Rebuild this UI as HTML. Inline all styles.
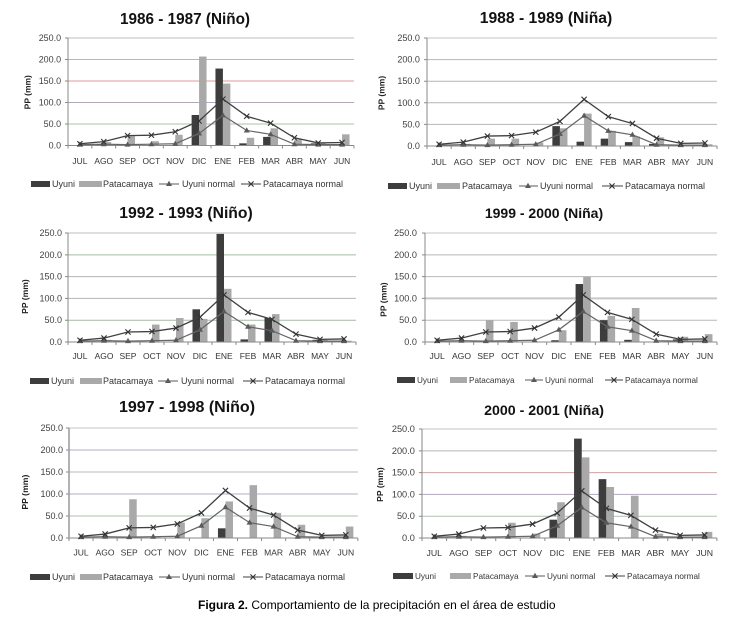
<!DOCTYPE html>
<html><head><meta charset="utf-8"><style>html,body{margin:0;padding:0;background:#fff;}svg{display:block;}</style></head>
<body>
<svg width="729" height="617" viewBox="0 0 729 617" xmlns="http://www.w3.org/2000/svg" xmlns:xlink="http://www.w3.org/1999/xlink" font-family="'Liberation Sans', sans-serif">
<defs>
 <path id="tri" d="M0,-3.2L3,2L-3,2Z" fill="#5a5a5a"/>
 <path id="xm" d="M-2.6,-2.6L2.6,2.6M-2.6,2.6L2.6,-2.6" stroke="#333" stroke-width="1.1" fill="none"/>
 <g id="frame" fill="none" stroke="#8a8a8a" stroke-width="1">
  <path d="M0,0V-108M-3,0H0M-3,-21.6H0M-3,-43.2H0M-3,-64.8H0M-3,-86.4H0M-3,-108H0"/>
  <path d="M0,0H288M0,0v3M24,0v3M48,0v3M72,0v3M96,0v3M120,0v3M144,0v3M168,0v3M192,0v3M216,0v3M240,0v3M264,0v3M288,0v3"/>
 </g>
 <g id="norm">
  <polyline points="12,-0.86 36,-1.30 60,-0.86 84,-1.30 108,-1.73 132,-12.10 156,-30.24 180,-15.12 204,-11.23 228,-1.30 252,-0.86 276,-0.86" fill="none" stroke="#666" stroke-width="1.2"/>
  <polyline points="12,-1.73 36,-3.89 60,-9.94 84,-10.37 108,-13.82 132,-24.62 156,-46.66 180,-29.38 204,-22.46 228,-7.78 252,-2.59 276,-3.02" fill="none" stroke="#404040" stroke-width="1.3"/>
  <use xlink:href="#tri" x="12" y="-0.86"/><use xlink:href="#tri" x="36" y="-1.30"/><use xlink:href="#tri" x="60" y="-0.86"/><use xlink:href="#tri" x="84" y="-1.30"/><use xlink:href="#tri" x="108" y="-1.73"/><use xlink:href="#tri" x="132" y="-12.10"/><use xlink:href="#tri" x="156" y="-30.24"/><use xlink:href="#tri" x="180" y="-15.12"/><use xlink:href="#tri" x="204" y="-11.23"/><use xlink:href="#tri" x="228" y="-1.30"/><use xlink:href="#tri" x="252" y="-0.86"/><use xlink:href="#tri" x="276" y="-0.86"/>
  <use xlink:href="#xm" x="12" y="-1.73"/><use xlink:href="#xm" x="36" y="-3.89"/><use xlink:href="#xm" x="60" y="-9.94"/><use xlink:href="#xm" x="84" y="-10.37"/><use xlink:href="#xm" x="108" y="-13.82"/><use xlink:href="#xm" x="132" y="-24.62"/><use xlink:href="#xm" x="156" y="-46.66"/><use xlink:href="#xm" x="180" y="-29.38"/><use xlink:href="#xm" x="204" y="-22.46"/><use xlink:href="#xm" x="228" y="-7.78"/><use xlink:href="#xm" x="252" y="-2.59"/><use xlink:href="#xm" x="276" y="-3.02"/>
 </g>
</defs>
<rect width="729" height="617" fill="#fff"/>

<!-- Chart 1 -->
<text x="185" y="24" text-anchor="middle" font-size="15.3" font-weight="bold" fill="#111">1986 - 1987 (Niño)</text>
<g transform="translate(68,145.5) scale(0.993,0.995)">
 <g stroke-width="1">
  <line x1="0" x2="288" y1="-108" y2="-108" stroke="#bdbdbd"/>
  <line x1="0" x2="288" y1="-86.4" y2="-86.4" stroke="#afbcaf"/>
  <line x1="0" x2="288" y1="-64.8" y2="-64.8" stroke="#e09a9a"/>
  <line x1="0" x2="288" y1="-43.2" y2="-43.2" stroke="#b8a2cc"/>
  <line x1="0" x2="288" y1="-21.6" y2="-21.6" stroke="#a9c4a9"/>
 </g>
 <g transform="scale(1,-0.432)">
  <g fill="#3d3d3d"><rect x="28.5" width="7.5" height="3"/><rect x="124.5" width="7.5" height="71"/><rect x="148.5" width="7.5" height="179"/><rect x="172.5" width="7.5" height="5"/><rect x="196.5" width="7.5" height="20"/><rect x="244.5" width="7.5" height="5"/></g>
  <g fill="#a9a9a9"><rect x="12" width="7.5" height="3"/><rect x="36" width="7.5" height="8"/><rect x="60" width="7.5" height="22"/><rect x="84" width="7.5" height="10"/><rect x="108" width="7.5" height="25"/><rect x="132" width="7.5" height="207"/><rect x="156" width="7.5" height="144"/><rect x="180" width="7.5" height="18"/><rect x="204" width="7.5" height="40"/><rect x="228" width="7.5" height="14"/><rect x="252" width="7.5" height="7"/><rect x="276" width="7.5" height="26"/></g>
 </g>
 <use xlink:href="#frame"/>
 <use xlink:href="#norm"/>
 <g font-size="9" fill="#404040" text-anchor="end">
  <text x="-7" y="-105">250.0</text><text x="-7" y="-83.4">200.0</text><text x="-7" y="-61.8">150.0</text><text x="-7" y="-40.2">100.0</text><text x="-7" y="-18.6">50.0</text><text x="-7" y="3">0.0</text>
 </g>
 <g font-size="8.5" fill="#333" text-anchor="middle">
  <text x="12" y="18.5">JUL</text><text x="36" y="18.5">AGO</text><text x="60" y="18.5">SEP</text><text x="84" y="18.5">OCT</text><text x="108" y="18.5">NOV</text><text x="132" y="18.5">DIC</text><text x="156" y="18.5">ENE</text><text x="180" y="18.5">FEB</text><text x="204" y="18.5">MAR</text><text x="228" y="18.5">ABR</text><text x="252" y="18.5">MAY</text><text x="276" y="18.5">JUN</text>
 </g>
 <text transform="translate(-38,-53.5) rotate(-90)" text-anchor="middle" font-size="8.5" font-weight="bold" fill="#222">PP (mm)</text>
</g>
<g font-size="9" fill="#333">
 <rect x="31" y="181" width="19" height="6" fill="#3d3d3d"/><text x="52" y="187.2">Uyuni</text>
 <rect x="79" y="181" width="23" height="6" fill="#a9a9a9"/><text x="103" y="187.2">Patacamaya</text>
 <line x1="159" x2="179" y1="184" y2="184" stroke="#5a5a5a"/><use xlink:href="#tri" x="169" y="184"/><text x="182" y="187.2">Uyuni normal</text>
 <line x1="241" x2="261" y1="184" y2="184" stroke="#404040"/><use xlink:href="#xm" x="251" y="184"/><text x="263" y="187.2">Patacamaya normal</text>
</g>

<!-- Chart 2 -->
<text x="546" y="23" text-anchor="middle" font-size="15.7" font-weight="bold" fill="#111">1988 - 1989 (Niña)</text>
<g transform="translate(427,146) scale(1.007,1)">
 <g stroke-width="1" stroke="#b5b5b5">
  <line x1="0" x2="288" y1="-108" y2="-108" stroke="#c4c4c4"/>
  <line x1="0" x2="288" y1="-86.4" y2="-86.4"/>
  <line x1="0" x2="288" y1="-64.8" y2="-64.8"/>
  <line x1="0" x2="288" y1="-43.2" y2="-43.2"/>
  <line x1="0" x2="288" y1="-21.6" y2="-21.6"/>
 </g>
 <g transform="scale(1,-0.432)">
  <g fill="#3d3d3d"><rect x="124.5" width="7.5" height="46"/><rect x="148.5" width="7.5" height="10"/><rect x="172.5" width="7.5" height="17"/><rect x="196.5" width="7.5" height="9"/><rect x="220.5" width="7.5" height="5"/></g>
  <g fill="#a9a9a9"><rect x="12" width="7.5" height="2"/><rect x="36" width="7.5" height="5"/><rect x="60" width="7.5" height="17"/><rect x="84" width="7.5" height="17"/><rect x="108" width="7.5" height="8"/><rect x="132" width="7.5" height="41"/><rect x="156" width="7.5" height="75"/><rect x="180" width="7.5" height="35"/><rect x="204" width="7.5" height="22"/><rect x="228" width="7.5" height="20"/><rect x="252" width="7.5" height="3"/><rect x="276" width="7.5" height="4"/></g>
 </g>
 <use xlink:href="#frame"/>
 <use xlink:href="#norm"/>
 <g font-size="9" fill="#404040" text-anchor="end">
  <text x="-7" y="-105">250.0</text><text x="-7" y="-83.4">200.0</text><text x="-7" y="-61.8">150.0</text><text x="-7" y="-40.2">100.0</text><text x="-7" y="-18.6">50.0</text><text x="-7" y="3">0.0</text>
 </g>
 <g font-size="8.5" fill="#333" text-anchor="middle">
  <text x="12" y="19">JUL</text><text x="36" y="19">AGO</text><text x="60" y="19">SEP</text><text x="84" y="19">OCT</text><text x="108" y="19">NOV</text><text x="132" y="19">DIC</text><text x="156" y="19">ENE</text><text x="180" y="19">FEB</text><text x="204" y="19">MAR</text><text x="228" y="19">ABR</text><text x="252" y="19">MAY</text><text x="276" y="19">JUN</text>
 </g>
 <text transform="translate(-42,-53) rotate(-90)" text-anchor="middle" font-size="8.5" font-weight="bold" fill="#222">PP (mm)</text>
</g>
<g font-size="9" fill="#333">
 <rect x="388" y="183" width="19" height="6" fill="#3d3d3d"/><text x="409" y="189.2">Uyuni</text>
 <rect x="437" y="183" width="23" height="6" fill="#a9a9a9"/><text x="462" y="189.2">Patacamaya</text>
 <line x1="519" x2="538" y1="186" y2="186" stroke="#5a5a5a"/><use xlink:href="#tri" x="528" y="186"/><text x="540" y="189.2">Uyuni normal</text>
 <line x1="602" x2="623" y1="186" y2="186" stroke="#404040"/><use xlink:href="#xm" x="612" y="186"/><text x="625" y="189.2">Patacamaya normal</text>
</g>

<!-- Chart 3 -->
<text x="186" y="218" text-anchor="middle" font-size="15.7" font-weight="bold" fill="#111">1992 - 1993 (Niño)</text>
<g transform="translate(68,342) scale(1,1.009)">
 <g stroke-width="1">
  <line x1="0" x2="288" y1="-108" y2="-108" stroke="#bdbdbd"/>
  <line x1="0" x2="288" y1="-86.4" y2="-86.4" stroke="#9cc29c"/>
  <line x1="0" x2="288" y1="-64.8" y2="-64.8" stroke="#b5b5b5"/>
  <line x1="0" x2="288" y1="-43.2" y2="-43.2" stroke="#b5b5b5"/>
  <line x1="0" x2="288" y1="-21.6" y2="-21.6" stroke="#9cc29c"/>
 </g>
 <g transform="scale(1,-0.432)">
  <g fill="#3d3d3d"><rect x="124.5" width="7.5" height="75"/><rect x="148.5" width="7.5" height="248"/><rect x="172.5" width="7.5" height="6"/><rect x="196.5" width="7.5" height="55"/><rect x="244.5" width="7.5" height="5"/></g>
  <g fill="#a9a9a9"><rect x="12" width="7.5" height="2"/><rect x="36" width="7.5" height="5"/><rect x="84" width="7.5" height="40"/><rect x="108" width="7.5" height="55"/><rect x="132" width="7.5" height="53"/><rect x="156" width="7.5" height="122"/><rect x="180" width="7.5" height="40"/><rect x="204" width="7.5" height="64"/><rect x="252" width="7.5" height="5"/><rect x="276" width="7.5" height="3"/></g>
 </g>
 <use xlink:href="#frame"/>
 <use xlink:href="#norm"/>
 <g font-size="9" fill="#404040" text-anchor="end">
  <text x="-6" y="-105">250.0</text><text x="-6" y="-83.4">200.0</text><text x="-6" y="-61.8">150.0</text><text x="-6" y="-40.2">100.0</text><text x="-6" y="-18.6">50.0</text><text x="-6" y="3">0.0</text>
 </g>
 <g font-size="8.5" fill="#333" text-anchor="middle">
  <text x="12" y="17">JUL</text><text x="36" y="17">AGO</text><text x="60" y="17">SEP</text><text x="84" y="17">OCT</text><text x="108" y="17">NOV</text><text x="132" y="17">DIC</text><text x="156" y="17">ENE</text><text x="180" y="17">FEB</text><text x="204" y="17">MAR</text><text x="228" y="17">ABR</text><text x="252" y="17">MAY</text><text x="276" y="17">JUN</text>
 </g>
 <text transform="translate(-40,-45) rotate(-90)" text-anchor="middle" font-size="8.5" font-weight="bold" fill="#222">PP (mm)</text>
</g>
<g font-size="9" fill="#333">
 <rect x="30" y="378" width="19" height="6" fill="#3d3d3d"/><text x="51" y="384.2">Uyuni</text>
 <rect x="80" y="378" width="22" height="6" fill="#a9a9a9"/><text x="103" y="384.2">Patacamaya</text>
 <line x1="158" x2="178" y1="381" y2="381" stroke="#5a5a5a"/><use xlink:href="#tri" x="168" y="381"/><text x="181" y="384.2">Uyuni normal</text>
 <line x1="243" x2="263" y1="381" y2="381" stroke="#404040"/><use xlink:href="#xm" x="253" y="381"/><text x="265" y="384.2">Patacamaya normal</text>
</g>

<!-- Chart 4 -->
<text x="544" y="218" text-anchor="middle" font-size="14" font-weight="bold" fill="#111">1999 - 2000 (Niña)</text>
<g transform="translate(425,342) scale(1.014,1.009)">
 <g stroke-width="1" stroke="#b8b8b8">
  <line x1="0" x2="288" y1="-108" y2="-108" stroke="#c4c4c4"/>
  <line x1="0" x2="288" y1="-86.4" y2="-86.4"/>
  <line x1="0" x2="288" y1="-64.8" y2="-64.8"/>
  <line x1="0" x2="288" y1="-43.2" y2="-43.2" stroke="#c8c8c8" stroke-width="2"/>
  <line x1="0" x2="288" y1="-21.6" y2="-21.6"/>
 </g>
 <g transform="scale(1,-0.432)">
  <g fill="#3d3d3d"><rect x="124.5" width="7.5" height="4"/><rect x="148.5" width="7.5" height="133"/><rect x="172.5" width="7.5" height="50"/><rect x="196.5" width="7.5" height="5"/><rect x="244.5" width="7.5" height="6"/></g>
  <g fill="#a9a9a9"><rect x="60" width="7.5" height="50"/><rect x="84" width="7.5" height="46"/><rect x="132" width="7.5" height="27"/><rect x="156" width="7.5" height="150"/><rect x="180" width="7.5" height="60"/><rect x="204" width="7.5" height="78"/><rect x="252" width="7.5" height="12"/><rect x="276" width="7.5" height="18"/></g>
 </g>
 <use xlink:href="#frame"/>
 <use xlink:href="#norm"/>
 <g font-size="9" fill="#404040" text-anchor="end">
  <text x="-8" y="-105">250.0</text><text x="-8" y="-83.4">200.0</text><text x="-8" y="-61.8">150.0</text><text x="-8" y="-40.2">100.0</text><text x="-8" y="-18.6">50.0</text><text x="-8" y="3">0.0</text>
 </g>
 <g font-size="8.5" fill="#333" text-anchor="middle">
  <text x="12" y="17">JUL</text><text x="36" y="17">AGO</text><text x="60" y="17">SEP</text><text x="84" y="17">OCT</text><text x="108" y="17">NOV</text><text x="132" y="17">DIC</text><text x="156" y="17">ENE</text><text x="180" y="17">FEB</text><text x="204" y="17">MAR</text><text x="228" y="17">ABR</text><text x="252" y="17">MAY</text><text x="276" y="17">JUN</text>
 </g>
 <text transform="translate(-38,-42) rotate(-90)" text-anchor="middle" font-size="8.5" font-weight="bold" fill="#222">PP (mm)</text>
</g>
<g font-size="8.2" fill="#333">
 <rect x="397" y="377" width="18" height="6" fill="#3d3d3d"/><text x="417" y="383">Uyuni</text>
 <rect x="450" y="377" width="17" height="6" fill="#a9a9a9"/><text x="469" y="383">Patacamaya</text>
 <line x1="525" x2="543" y1="380" y2="380" stroke="#5a5a5a"/><use xlink:href="#tri" x="534" y="380"/><text x="545" y="383">Uyuni normal</text>
 <line x1="605" x2="623" y1="380" y2="380" stroke="#404040"/><use xlink:href="#xm" x="614" y="380"/><text x="625" y="383">Patacamaya normal</text>
</g>

<!-- Chart 5 -->
<text x="187" y="412" text-anchor="middle" font-size="16" font-weight="bold" fill="#111">1997 - 1998 (Niño)</text>
<g transform="translate(69,538) scale(1.003,1.019)">
 <g stroke-width="1" stroke="#b8b8b8">
  <line x1="0" x2="288" y1="-108" y2="-108" stroke="#c4c4c4"/>
  <line x1="0" x2="288" y1="-86.4" y2="-86.4" stroke="#b9adc6"/>
  <line x1="0" x2="288" y1="-64.8" y2="-64.8"/>
  <line x1="0" x2="288" y1="-43.2" y2="-43.2" stroke="#b9adc6"/>
  <line x1="0" x2="288" y1="-21.6" y2="-21.6" stroke="#adc2ad"/>
 </g>
 <g transform="scale(1,-0.432)">
  <g fill="#3d3d3d"><rect x="52.5" width="7.5" height="3"/><rect x="148.5" width="7.5" height="22"/></g>
  <g fill="#a9a9a9"><rect x="36" width="7.5" height="2"/><rect x="60" width="7.5" height="88"/><rect x="84" width="7.5" height="2"/><rect x="108" width="7.5" height="35"/><rect x="132" width="7.5" height="45"/><rect x="156" width="7.5" height="83"/><rect x="180" width="7.5" height="120"/><rect x="204" width="7.5" height="57"/><rect x="228" width="7.5" height="30"/><rect x="276" width="7.5" height="26"/></g>
 </g>
 <use xlink:href="#frame"/>
 <line x1="0" x2="0" y1="0" y2="-108" stroke="#999" stroke-width="1.5"/>
 <use xlink:href="#norm"/>
 <g font-size="9" fill="#404040" text-anchor="end">
  <text x="-6" y="-105">250.0</text><text x="-6" y="-83.4">200.0</text><text x="-6" y="-61.8">150.0</text><text x="-6" y="-40.2">100.0</text><text x="-6" y="-18.6">50.0</text><text x="-6" y="3">0.0</text>
 </g>
 <g font-size="8.5" fill="#333" text-anchor="middle">
  <text x="12" y="17">JUL</text><text x="36" y="17">AGO</text><text x="60" y="17">SEP</text><text x="84" y="17">OCT</text><text x="108" y="17">NOV</text><text x="132" y="17">DIC</text><text x="156" y="17">ENE</text><text x="180" y="17">FEB</text><text x="204" y="17">MAR</text><text x="228" y="17">ABR</text><text x="252" y="17">MAY</text><text x="276" y="17">JUN</text>
 </g>
 <text transform="translate(-41,-45) rotate(-90)" text-anchor="middle" font-size="8.5" font-weight="bold" fill="#222">PP (mm)</text>
</g>
<g font-size="9" fill="#333">
 <rect x="30" y="574" width="20" height="6" fill="#3d3d3d"/><text x="52" y="580.2">Uyuni</text>
 <rect x="80" y="574" width="22" height="6" fill="#a9a9a9"/><text x="103" y="580.2">Patacamaya</text>
 <line x1="159" x2="180" y1="577" y2="577" stroke="#5a5a5a"/><use xlink:href="#tri" x="169" y="577"/><text x="182" y="580.2">Uyuni normal</text>
 <line x1="243" x2="263" y1="577" y2="577" stroke="#404040"/><use xlink:href="#xm" x="253" y="577"/><text x="265" y="580.2">Patacamaya normal</text>
</g>

<!-- Chart 6 -->
<text x="544" y="415" text-anchor="middle" font-size="14.2" font-weight="bold" fill="#111">2000 - 2001 (Niña)</text>
<g transform="translate(422,538) scale(1.024,1.009)">
 <g stroke-width="1">
  <line x1="0" x2="288" y1="-108" y2="-108" stroke="#c0c0c0"/>
  <line x1="0" x2="288" y1="-86.4" y2="-86.4" stroke="#b5b5b5"/>
  <line x1="0" x2="288" y1="-64.8" y2="-64.8" stroke="#e09a9a"/>
  <line x1="0" x2="288" y1="-43.2" y2="-43.2" stroke="#b8a2cc"/>
  <line x1="0" x2="288" y1="-21.6" y2="-21.6" stroke="#a9c4a9"/>
 </g>
 <g transform="scale(1,-0.432)">
  <g fill="#3d3d3d"><rect x="124.5" width="7.5" height="42"/><rect x="148.5" width="7.5" height="228"/><rect x="172.5" width="7.5" height="135"/></g>
  <g fill="#a9a9a9"><rect x="12" width="7.5" height="2"/><rect x="36" width="7.5" height="5"/><rect x="84" width="7.5" height="35"/><rect x="108" width="7.5" height="10"/><rect x="132" width="7.5" height="82"/><rect x="156" width="7.5" height="185"/><rect x="180" width="7.5" height="117"/><rect x="204" width="7.5" height="97"/><rect x="228" width="7.5" height="10"/><rect x="276" width="7.5" height="14"/></g>
 </g>
 <use xlink:href="#frame"/>
 <use xlink:href="#norm"/>
 <g font-size="9" fill="#404040" text-anchor="end">
  <text x="-7" y="-105">250.0</text><text x="-7" y="-83.4">200.0</text><text x="-7" y="-61.8">150.0</text><text x="-7" y="-40.2">100.0</text><text x="-7" y="-18.6">50.0</text><text x="-7" y="3">0.0</text>
 </g>
 <g font-size="8.5" fill="#333" text-anchor="middle">
  <text x="12" y="18">JUL</text><text x="36" y="18">AGO</text><text x="60" y="18">SEP</text><text x="84" y="18">OCT</text><text x="108" y="18">NOV</text><text x="132" y="18">DIC</text><text x="156" y="18">ENE</text><text x="180" y="18">FEB</text><text x="204" y="18">MAR</text><text x="228" y="18">ABR</text><text x="252" y="18">MAY</text><text x="276" y="18">JUN</text>
 </g>
 <text transform="translate(-38,-53) rotate(-90)" text-anchor="middle" font-size="8.5" font-weight="bold" fill="#222">PP (mm)</text>
</g>
<g font-size="8.2" fill="#333">
 <rect x="393" y="573" width="20" height="6" fill="#3d3d3d"/><text x="415" y="579">Uyuni</text>
 <rect x="450" y="573" width="21" height="6" fill="#a9a9a9"/><text x="473" y="579">Patacamaya</text>
 <line x1="525" x2="545" y1="576" y2="576" stroke="#5a5a5a"/><use xlink:href="#tri" x="535" y="576"/><text x="547" y="579">Uyuni normal</text>
 <line x1="605" x2="625" y1="576" y2="576" stroke="#404040"/><use xlink:href="#xm" x="615" y="576"/><text x="627" y="579">Patacamaya normal</text>
</g>

<!-- Caption -->
<text x="198" y="609" font-size="12" fill="#000"><tspan font-weight="bold">Figura 2.</tspan> Comportamiento de la precipitación en el área de estudio</text>
</svg>
</body></html>
